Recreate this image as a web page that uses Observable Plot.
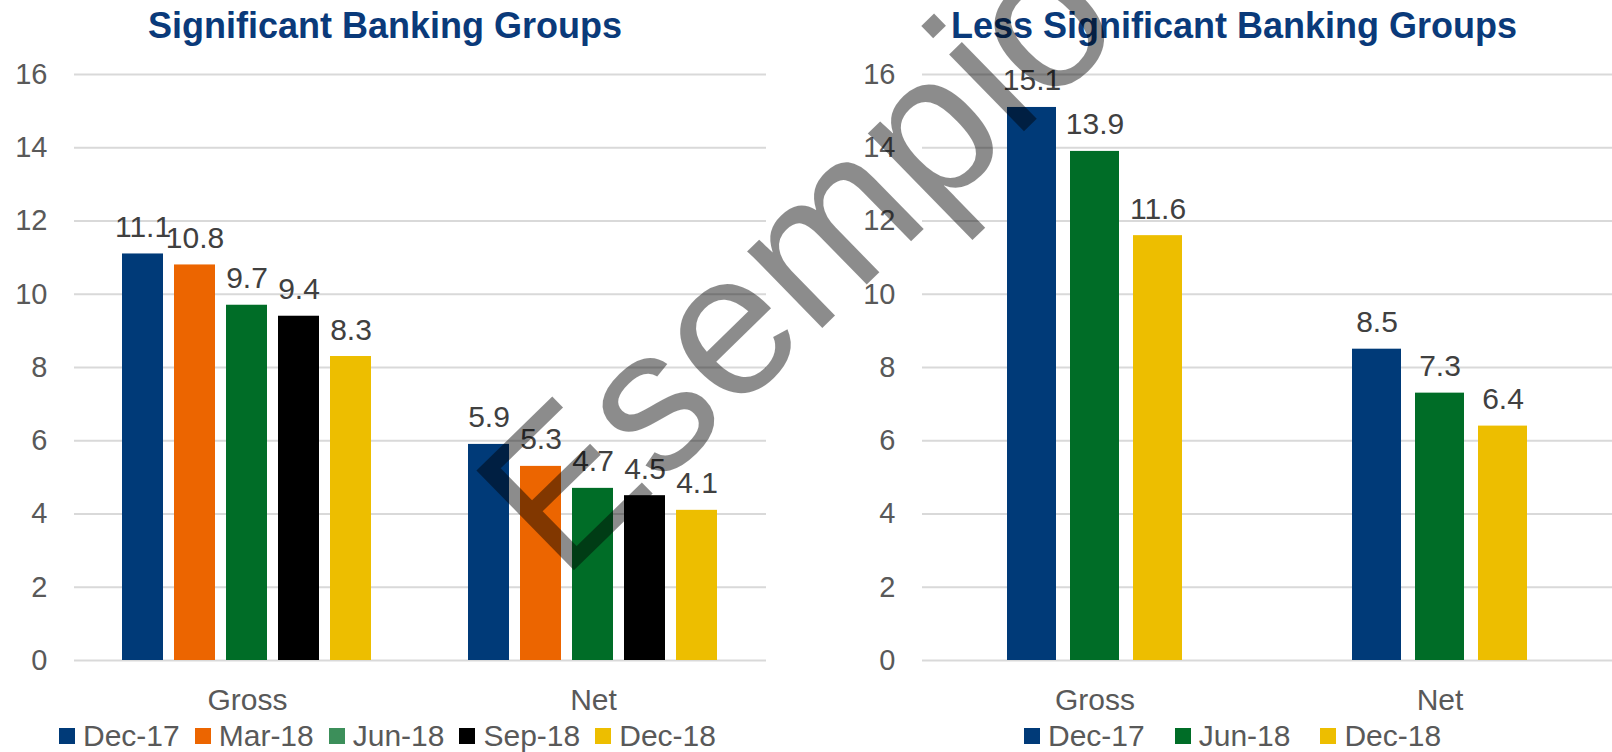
<!DOCTYPE html>
<html>
<head>
<meta charset="utf-8">
<script src="https://cdn.jsdelivr.net/npm/d3@7"></script>
<script src="https://cdn.jsdelivr.net/npm/@observablehq/plot@0.6"></script>
<style>
  html, body { margin: 0; padding: 0; background: #fff; }
  body { width: 1612px; height: 752px; position: relative; overflow: hidden; font-family: "Liberation Sans", Arial, sans-serif; }
  .chart { position: absolute; top: 0; }
  .title { position: absolute; top: 8px; font-family: "Liberation Sans", Arial, sans-serif; font-weight: bold; font-size: 36px; line-height: 36px; color: #0A3A7A; white-space: nowrap; transform: translateX(-50%); }
  .legend { position: absolute; top: 721px; display: flex; align-items: center; font-size: 30px; line-height: 30px; color: #595959; white-space: nowrap; }
  .legend .item { display: flex; align-items: center; }
  .legend .sw { width: 16px; height: 16px; margin-right: 8px; }
  #wm { position: absolute; left: 0; top: 0; pointer-events: none; }
</style>
</head>
<body>
<div id="left" class="chart" style="left:0px"></div>
<div id="right" class="chart" style="left:847px"></div>
<div class="title" style="left:385px">Significant Banking Groups</div>
<div class="title" style="left:1234px">Less Significant Banking Groups</div>
<div id="legLeft" class="legend" style="left:59px; gap:15px"></div>
<div id="legRight" class="legend" style="left:1024px; gap:30px"></div>
<svg id="wm" width="1612" height="752">
  <text x="562" y="582" transform="rotate(-44.3 562 582)" font-family="Liberation Sans, Arial, sans-serif" font-size="203" fill="#000" fill-opacity="0.45">Esempio</text>
</svg>
<script>
// ---- data ----
const groups = ["Gross", "Net"];
const yTicks = [0, 2, 4, 6, 8, 10, 12, 14, 16];

const sigSeries = ["Dec-17", "Mar-18", "Jun-18", "Sep-18", "Dec-18"];
const sigGross = [11.1, 10.8, 9.7, 9.4, 8.3];
const sigNet = [5.9, 5.3, 4.7, 4.5, 4.1];

const lessSeries = ["Dec-17", "Jun-18", "Dec-18"];
const lessGross = [15.1, 13.9, 11.6];
const lessNet = [8.5, 7.3, 6.4];

// ---- styles ----
const barColor = {"Dec-17": "#003A78", "Mar-18": "#EC6500", "Jun-18": "#006D27", "Sep-18": "#000000", "Dec-18": "#EDBE00"};
const leftLegendColor = {"Dec-17": "#003A78", "Mar-18": "#EC6500", "Jun-18": "#3C8F5A", "Sep-18": "#000000", "Dec-18": "#EDBE00"};

function rows(series, gross, net) {
  const out = [];
  series.forEach((s, i) => out.push({group: "Gross", series: s, value: gross[i]}));
  series.forEach((s, i) => out.push({group: "Net", series: s, value: net[i]}));
  return out;
}

function chart(data, series, opts) {
  return Plot.plot({
    width: opts.width,
    height: 752,
    marginLeft: 74,
    marginRight: opts.marginRight,
    marginTop: 74,
    marginBottom: 92,
    style: {fontFamily: "Liberation Sans, Arial, sans-serif", fontSize: "30px", color: "#595959", background: "transparent"},
    fx: {domain: groups, padding: 0, label: null},
    x: {domain: series, paddingInner: opts.pi, paddingOuter: opts.po, axis: null},
    y: {domain: [0, 16], label: null},
    color: {domain: series, range: series.map(s => barColor[s])},
    marks: [
      Plot.ruleY(yTicks, {stroke: "#D9D9D9", strokeWidth: 2}),
      Plot.barY(data, {fx: "group", x: "series", y: "value", fill: "series"}),
      Plot.text(data, {fx: "group", x: "series", y: "value", text: d => d.value.toFixed(1), lineAnchor: "bottom", dy: -17, fill: "#404040", fontSize: 30}),
      Plot.axisY(yTicks, {tickSize: 0, tickPadding: 27, fontSize: 29, label: null}),
      Plot.axisFx({anchor: "bottom", tickSize: 0, tickPadding: 28, fontSize: 30, label: null})
    ]
  });
}

document.getElementById("left").append(
  chart(rows(sigSeries, sigGross, sigNet), sigSeries, {width: 780, marginRight: 14, pi: 11 / 53, po: 0.868})
);
document.getElementById("right").append(
  chart(rows(lessSeries, lessGross, lessNet), lessSeries, {width: 765, marginRight: 0, pi: 14.5 / 63.5, po: 1.33})
);

function legend(el, series, colors) {
  series.forEach(s => {
    const item = document.createElement("div");
    item.className = "item";
    const sw = document.createElement("span");
    sw.className = "sw";
    sw.style.background = colors[s];
    const t = document.createElement("span");
    t.textContent = s;
    item.append(sw, t);
    el.append(item);
  });
}
legend(document.getElementById("legLeft"), sigSeries, leftLegendColor);
legend(document.getElementById("legRight"), lessSeries, barColor);
</script>
</body>
</html>
